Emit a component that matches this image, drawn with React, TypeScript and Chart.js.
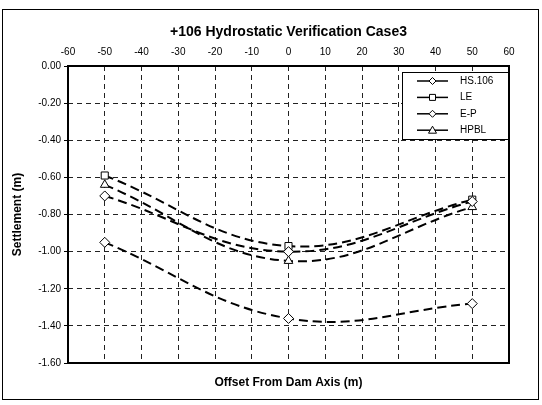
import React, { useEffect, useRef } from "react";
import { Chart, registerables } from "chart.js";

Chart.register(...registerables);

// Offsets from the dam axis (m) where settlement was evaluated
const offsets = [-50, 0, 50];

// Settlement (m) per method
const hs106 = [-0.7, -1.0, -0.73];
const le = [-0.59, -0.97, -0.72];
const ep = [-0.95, -1.36, -1.28];
const hpbl = [-0.64, -1.05, -0.76];

const seriesNames = ["HS.106", "LE", "E-P", "HPBL"];
const seriesValues = [hs106, le, ep, hpbl];
const seriesMarkers = ["rectRot", "rect", "rectRot", "triangle"];

const chartTitle = "+106 Hydrostatic Verification Case3";
const xTitle = "Offset From Dam Axis (m)";
const yTitle = "Settlement (m)";

const FONT = "'Liberation Sans', Arial, Helvetica, sans-serif";

const decorations = {
  id: "decorations",
  afterDraw(chart: any) {
    const { ctx, chartArea } = chart;
    const { left, top, right, bottom } = chartArea;
    ctx.save();

    // plot frame
    ctx.strokeStyle = "#000";
    ctx.lineWidth = 2;
    ctx.setLineDash([]);
    ctx.strokeRect(left, top, right - left, bottom - top);

    // outer frame
    ctx.lineWidth = 1;
    ctx.strokeRect(2.5, 9.5, 536, 390);

    // titles
    ctx.fillStyle = "#000";
    ctx.textAlign = "center";
    ctx.textBaseline = "middle";
    ctx.font = `bold 14px ${FONT}`;
    ctx.fillText(chartTitle, (left + right) / 2, 32);
    ctx.font = `bold 12px ${FONT}`;
    ctx.fillText(xTitle, (left + right) / 2, 383);
    ctx.save();
    ctx.translate(18, (top + bottom) / 2);
    ctx.rotate(-Math.PI / 2);
    ctx.fillText(yTitle, 0, 0);
    ctx.restore();

    // legend box
    const bx = right - 107;
    const by = top + 6;
    const bw = 107;
    const bh = 68;
    ctx.fillStyle = "#fff";
    ctx.fillRect(bx, by, bw, bh);
    ctx.strokeStyle = "#000";
    ctx.lineWidth = 1;
    ctx.strokeRect(bx + 0.5, by + 0.5, bw - 1, bh - 1);

    seriesNames.forEach((name, i) => {
      const y = by + 9 + i * 16.4;
      const lx0 = bx + 15;
      const lx1 = bx + 46;
      const mx = (lx0 + lx1) / 2;
      ctx.strokeStyle = "#000";
      ctx.lineWidth = 1.5;
      ctx.beginPath();
      ctx.moveTo(lx0, y);
      ctx.lineTo(lx1, y);
      ctx.stroke();
      ctx.lineWidth = 1;
      ctx.fillStyle = "#fff";
      ctx.beginPath();
      const r = 3.5;
      const m = seriesMarkers[i];
      if (m === "rectRot") {
        ctx.moveTo(mx, y - r);
        ctx.lineTo(mx + r, y);
        ctx.lineTo(mx, y + r);
        ctx.lineTo(mx - r, y);
        ctx.closePath();
      } else if (m === "rect") {
        ctx.rect(mx - 3, y - 3, 6, 6);
      } else {
        ctx.moveTo(mx, y - 4);
        ctx.lineTo(mx + 4, y + 3);
        ctx.lineTo(mx - 4, y + 3);
        ctx.closePath();
      }
      ctx.fill();
      ctx.stroke();
      ctx.fillStyle = "#000";
      ctx.textAlign = "left";
      ctx.textBaseline = "middle";
      ctx.font = `10px ${FONT}`;
      ctx.fillText(name, bx + 58, y);
    });

    ctx.restore();
  },
};

export default function App() {
  const canvasRef = useRef<HTMLCanvasElement | null>(null);

  useEffect(() => {
    const canvas = canvasRef.current;
    if (!canvas) return;

    const datasets = seriesNames.map((name, i) => ({
      label: name,
      data: offsets.map((x, j) => ({ x, y: seriesValues[i][j] })),
      showLine: true,
      tension: 0.4,
      borderColor: "#000",
      borderWidth: 2,
      borderDash: [9, 5],
      pointStyle: seriesMarkers[i],
      pointRadius: 5,
      pointBackgroundColor: "#fff",
      pointBorderColor: "#000",
      pointBorderWidth: 1,
    }));

    const chart = new Chart(canvas, {
      type: "scatter",
      data: { datasets },
      plugins: [decorations],
      options: {
        animation: false,
        responsive: false,
        maintainAspectRatio: false,
        layout: { padding: { top: 0, left: 0, right: 33, bottom: 42 } },
        plugins: {
          legend: { display: false },
          tooltip: { enabled: false },
          title: { display: false },
        },
        scales: {
          x: {
            type: "linear",
            position: "top",
            min: -60,
            max: 60,
            afterFit: (scale: any) => {
              scale.height = 66;
            },
            ticks: {
              stepSize: 10,
              color: "#000",
              font: { family: FONT, size: 10 },
              padding: 8,
              maxRotation: 0,
            },
            grid: {
              color: "#222",
              lineWidth: 1,
              drawTicks: false,
            },
            border: { display: false, dash: [5, 4] },
          },
          y: {
            type: "linear",
            min: -1.6,
            max: 0,
            afterFit: (scale: any) => {
              scale.width = 68;
            },
            ticks: {
              stepSize: 0.2,
              color: "#000",
              font: { family: FONT, size: 10 },
              padding: 3,
              callback: (v: any) => Number(v).toFixed(2),
            },
            grid: {
              color: "#222",
              lineWidth: 1,
              tickLength: 4,
              tickColor: "#000",
              tickBorderDash: [],
              tickWidth: 1,
            },
            border: { display: false, dash: [5, 4] },
          },
        },
      } as any,
    });

    return () => chart.destroy();
  }, []);

  return (
    <div style={{ position: "absolute", left: 0, top: 0, width: 542, height: 405, background: "#fff" }}>
      <canvas ref={canvasRef} width={542} height={405} />
    </div>
  );
}
